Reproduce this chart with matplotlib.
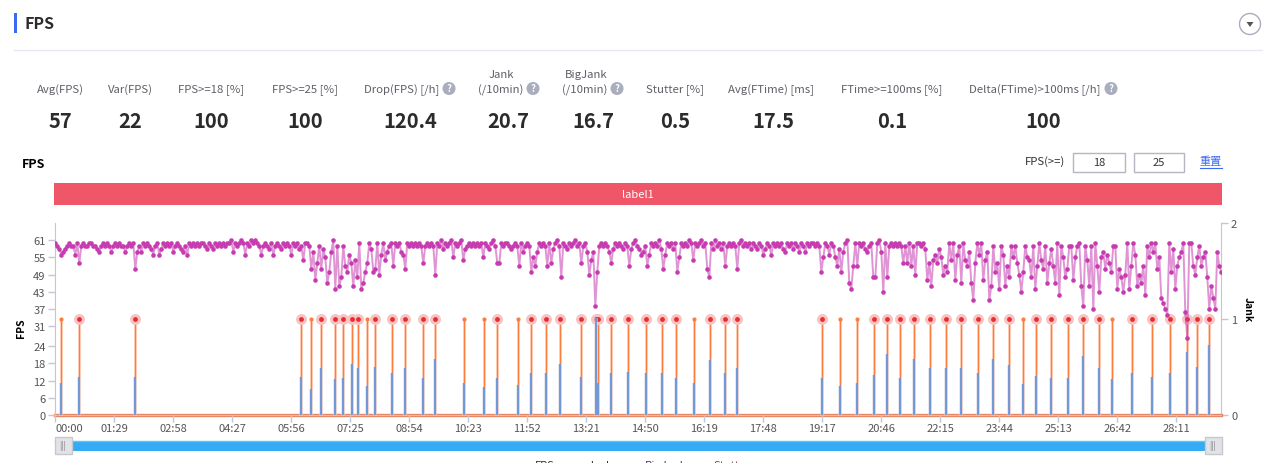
import numpy as np
import matplotlib
matplotlib.use("Agg")
import matplotlib.pyplot as plt
from matplotlib.patches import Rectangle, Circle, Polygon

plt.rcParams['font.family'] = ['Noto Sans CJK SC', 'DejaVu Sans']

# fps, one row = about a minute
fps = [
    60,59,58,56,57,58,59,60,59,59,56,60,53,59,60,59,59,60,60,59,
    59,58,57,59,60,59,60,59,57,59,60,59,60,59,59,57,59,60,59,60,
    51,57,59,57,60,59,60,59,58,56,59,60,56,58,60,59,60,59,60,57,
    59,60,59,58,57,59,56,60,59,60,59,60,59,60,60,59,58,60,59,58,
    60,59,60,59,60,59,60,60,61,57,60,59,60,61,60,56,60,59,61,60,
    61,60,59,56,59,60,59,58,60,56,59,60,59,58,60,59,60,59,56,60,
    59,60,58,59,54,60,60,59,51,57,47,53,59,51,58,55,46,50,57,61,
    44,59,45,48,59,52,50,56,53,45,54,48,60,44,46,50,53,60,58,50,
    51,60,49,56,60,54,57,59,60,52,60,59,60,57,56,51,60,59,60,59,
    60,59,60,59,53,59,60,59,60,59,49,60,59,61,58,60,59,60,61,55,
    60,59,60,61,54,58,59,60,59,60,59,60,59,60,55,60,59,58,60,61,
    59,53,53,60,59,60,60,59,58,59,60,59,52,60,57,59,60,59,50,55,
    52,57,60,59,60,59,52,60,53,58,60,61,59,48,60,59,58,60,59,60,
    61,59,60,53,59,60,57,49,54,57,38,50,59,60,59,60,59,57,53,58,
    60,59,60,59,58,60,59,52,58,60,61,59,58,56,57,59,52,56,60,59,
    60,59,61,58,51,56,60,59,60,58,60,50,55,60,59,60,59,61,60,54,
    60,59,60,61,59,60,51,48,60,58,61,59,60,58,60,52,59,60,59,60,
    59,51,60,61,59,60,59,60,58,60,59,58,60,59,56,58,60,59,56,60,
    59,60,59,60,58,57,60,59,60,58,60,59,57,60,59,57,60,59,60,60,
    59,60,59,50,55,60,59,56,60,59,55,52,58,50,57,60,61,46,44,52,
    60,52,60,59,60,58,57,59,60,48,48,60,61,57,43,60,48,59,60,59,
    60,59,60,59,53,59,53,60,52,59,49,60,60,59,60,58,47,53,45,54,
    56,53,58,55,49,52,50,60,54,60,47,56,59,46,60,54,52,57,46,40,
    53,60,56,60,47,54,57,40,45,59,50,53,44,59,56,45,52,48,59,55,
    59,53,49,43,50,59,55,54,48,59,44,52,60,54,51,59,46,53,58,52,
    46,60,42,59,55,48,51,59,59,47,55,59,60,45,38,59,54,45,59,37,
    60,52,43,55,57,51,56,53,50,59,59,44,51,48,43,49,60,44,52,60,
    56,45,49,46,52,42,59,55,60,57,60,51,55,41,39,37,35,60,50,58,
    44,52,55,57,60,36,27,60,60,52,49,55,59,52,55,57,48,37,45,41,
    37,57,52,50,
]
fps_t = np.linspace(0, 1759, len(fps))

# second, bigjank height (left axis), stutter or not
jank = [
    (9,11.2,0),(35,13.3,1),(120,13.3,1),(371,13.3,1),(385,9.1,0),(401,16.4,1),
    (422,12.7,1),(434,13,1),(448,17.9,1),(456,16.3,1),(470,10.1,0),(483,16.8,1),
    (508,14.8,1),(528,16.3,1),(555,13,1),(573,19.7,1),(616,11.2,0),(646,9.7,0),
    (667,13,1),(698,10.5,0),(718,14.8,1),(740,14.8,1),(761,17.9,1),(793,13.3,1),
    (815,34,1),(818,11.2,1),(838,14.8,1),(864,15,1),(891,14.8,1),(916,14.8,1),
    (937,13,1),(964,11.2,0),(987,19.3,1),(1010,14.8,1),(1028,16.3,1),(1156,13,1),
    (1184,10.1,0),(1209,11.2,0),(1235,14,1),(1254,21.3,1),(1275,13,1),(1295,19.5,1),
    (1320,16.3,1),(1344,16.3,1),(1366,16.3,1),(1392,14.8,1),(1414,19.7,1),(1439,17.5,1),
    (1460,10.8,0),(1480,13.7,1),(1502,13,1),(1528,13,1),(1551,20.5,1),(1574,16.3,1),
    (1594,12.6,0),(1625,14.8,1),(1654,13.3,1),(1681,14.8,1),(1707,22.1,1),(1722,16.8,1),
    (1741,24.4,1),
]
jank_t = [j[0] for j in jank]
big_h = [j[1] for j in jank]
stutter_t = [j[0] for j in jank if j[2] == 1]
plain_t = [j[0] for j in jank if j[2] == 0]

W, H = 1273, 464
fig = plt.figure(figsize=(W / 100, H / 100), dpi=100)

# page furniture, drawn in pixel coordinates
page = fig.add_axes([0, 0, 1, 1])
page.set_xlim(0, W)
page.set_ylim(H, 0)
page.axis("off")

grey = "#5f6068"
dark = "#2b2b2b"
icon = "#a9adbd"

page.add_patch(Rectangle((14, 14), 3, 20, color="#3d6af2", lw=0))
page.text(24, 24, "FPS", fontsize=11.5, fontweight="bold", color=dark, va="center")
page.plot([14, 1262], [50.5, 50.5], color="#e8e8f0", lw=1)
page.add_patch(Circle((1250, 25), 10.5, fc="white", ec=icon, lw=1))
page.add_patch(Polygon([[1246.5, 23], [1253.5, 23], [1250, 28]], color="#555555", lw=0))

# label, label x, value, value x, has help icon at x
stats = [
    ("Avg(FPS)", 60, "57", 60, None),
    ("Var(FPS)", 130, "22", 130, None),
    ("FPS>=18 [%]", 211, "100", 211, None),
    ("FPS>=25 [%]", 305, "100", 305, None),
    ("Drop(FPS) [/h]", 402, "120.4", 410, 449),
    ("(/10min)", 501, "20.7", 508, 533),
    ("(/10min)", 585, "16.7", 593, 617),
    ("Stutter [%]", 675, "0.5", 675, None),
    ("Avg(FTime) [ms]", 771, "17.5", 773, None),
    ("FTime>=100ms [%]", 892, "0.1", 892, None),
    ("Delta(FTime)>100ms [/h]", 1035, "100", 1043, 1111),
]
for label, lx, value, vx, help_x in stats:
    page.text(lx, 90, label, fontsize=8.2, color=grey, ha="center", va="center")
    page.text(vx, 122, value, fontsize=14.5, fontweight="bold", color=dark, ha="center", va="center")
    if help_x:
        page.add_patch(Circle((help_x, 89.5), 6.5, color=icon, lw=0))
        page.text(help_x, 89.5, "?", fontsize=7, fontweight="bold", color="white", ha="center", va="center")
page.text(501, 75, "Jank", fontsize=8.2, color=grey, ha="center", va="center")
page.text(586, 75, "BigJank", fontsize=8.2, color=grey, ha="center", va="center")

page.text(34, 165, "FPS", fontsize=9, fontweight="bold", color="black", ha="center", va="center")
page.text(1045, 162, "FPS(>=)", fontsize=8.2, color="#333333", ha="center", va="center")
for x0, x1, txt in [(1073, 1125, "18"), (1134, 1184, "25")]:
    page.add_patch(Rectangle((x0, 153.5), x1 - x0, 19, fc="white", ec="#b4b6c4", lw=1))
    page.text((x0 + x1) / 2, 163, txt, fontsize=8, color="#333333", ha="center", va="center")
page.text(1211, 162, "重置", fontsize=8, color="#3d6af2", ha="center", va="center")
page.plot([1200, 1222], [168.5, 168.5], color="#3d6af2", lw=0.8)

page.add_patch(Rectangle((54, 184), 1168, 22, color="#ef5667", lw=0))
page.text(638, 195, "label1", fontsize=8, color="white", ha="center", va="center")

# slider under the chart
page.add_patch(Rectangle((55, 441.5), 1166, 10.5, color="#34abf3", lw=0))
page.plot([55, 1221], [441.8, 441.8], color="#6cc0ee", lw=1)
for x0 in [54.5, 1204.5]:
    page.add_patch(Rectangle((x0, 438), 17, 16.5, fc="#e2e3e6", ec="#c6c8ce", lw=1, zorder=4))
    page.text(x0 + 8.5, 446, "|||", fontsize=6, color="#777777", ha="center", va="center", zorder=5)

# legend, cut by the bottom of the picture as in the original
for name, x, col in [("FPS", 545, "#333333"), ("Jank", 600, "#333333"),
                     ("BigJank", 666, "#5a3a70"), ("Stutter", 732, "#7a4040")]:
    page.text(x, 466, name, fontsize=8, color=col, ha="center", va="center", clip_on=True)

# chart
ax = fig.add_axes([55.3 / W, (H - 416) / H, 1166 / W, 192 / H])
ax2 = ax.twinx()
ax.set_zorder(ax2.get_zorder() + 1)
ax.patch.set_visible(False)

# jank on the right axis: pale wide line, then the orange one
ax2.vlines(jank_t, 0, 1, color="#ffc4a8", lw=2.0, alpha=0.8)
ax2.vlines(jank_t, 0, 1, color="#ff7d3c", lw=0.9)
ax2.scatter(plain_t, [1] * len(plain_t), s=9, color="#ff7d3c", lw=0, zorder=4)
ax2.scatter(stutter_t, [1] * len(stutter_t), s=62, color="#f6c4c4", lw=0, zorder=4)
ax2.scatter(stutter_t, [1] * len(stutter_t), s=12, color="#ee2a2a", lw=0, zorder=5)
ax2.plot([0, 1759], [0, 0], color="#e8845c", lw=2.4, clip_on=False, zorder=6)
ax2.set_ylim(0, 2)
ax2.set_yticks([0, 1, 2])

# bigjank bars and fps on the left axis
ax.vlines(jank_t, 0, big_h, color="#d5d9e8", lw=2.8, alpha=0.6)
ax.vlines(jank_t, 0, big_h, color="#6a93d8", lw=1.3)
ax.plot(fps_t, fps, color="#c63cb0", lw=1.4, alpha=0.55, zorder=3)
ax.plot(fps_t, fps, ls="none", marker="o", ms=3.3, mfc="#c63cb0", mec="none", zorder=4)
ax.set_xlim(0, 1759)
ax.set_ylim(0, 67)
ax.set_yticks([0, 6, 12, 18, 24, 31, 37, 43, 49, 55, 61])
xt = np.arange(0, 1759, 89)
ax.set_xticks(xt)
ax.set_xticklabels(["%02d:%02d" % (t // 60, t % 60) for t in xt])
ax.get_xticklabels()[0].set_ha("left")

for a in (ax, ax2):
    for side in a.spines:
        a.spines[side].set_color("#c3c6d4")
    a.spines["top"].set_visible(False)
    a.tick_params(colors="#c3c6d4", labelcolor="#555555", labelsize=8, length=5, width=1, pad=2)
ax.tick_params(axis="x", pad=1)
ax.spines["right"].set_visible(False)
ax2.spines["left"].set_visible(False)

page.text(21, 328, "FPS", fontsize=7.5, fontweight="bold", color="black", rotation=90, ha="center", va="center")
page.text(1248, 310, "Jank", fontsize=7.5, fontweight="bold", color="black", rotation=270, ha="center", va="center")

plt.savefig("out.png", dpi=100)
